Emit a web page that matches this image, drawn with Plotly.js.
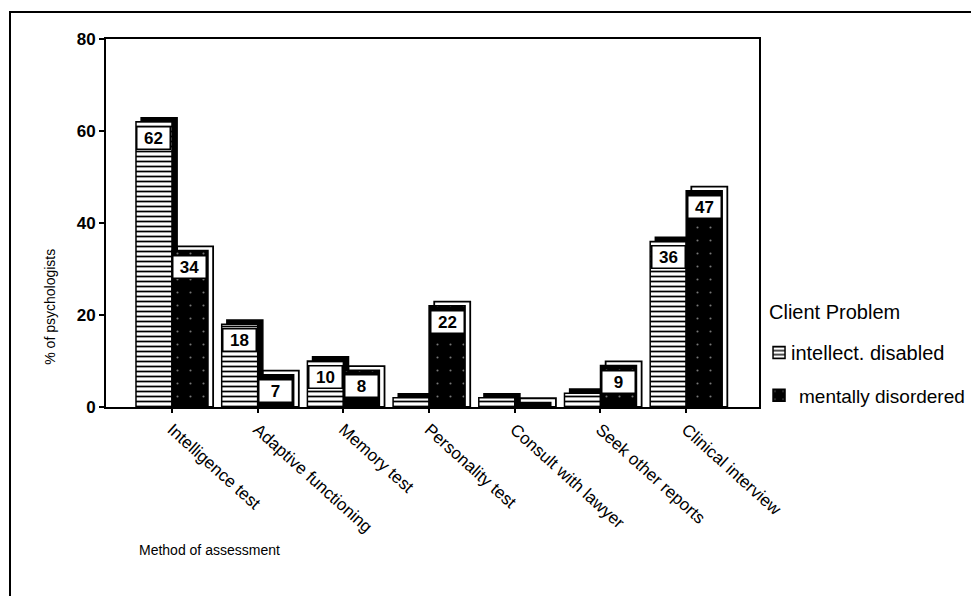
<!DOCTYPE html>
<html>
<head>
<meta charset="utf-8">
<script src="https://cdn.plot.ly/plotly-3.0.1.min.js"></script>
<style>
  html, body { margin: 0; padding: 0; background: #fff; }
  #wrap { position: relative; width: 971px; height: 596px; overflow: hidden; }
  #chart { width: 971px; height: 596px; }
  #frame { position: absolute; left: 9px; top: 11px; width: 1000px; height: 700px;
           border-left: 2px solid #000; border-top: 2px solid #000; pointer-events: none; }
</style>
</head>
<body>
<div id="wrap">
  <div id="chart"></div>
  <div id="frame"></div>
</div>
<script>
// ---- data ----
const categories = ["Intelligence test", "Adaptive functioning", "Memory test",
                    "Personality test", "Consult with lawyer", "Seek other reports",
                    "Clinical interview"];
const intellectDisabled = [62, 18, 10, 2, 2, 3, 36];
const mentallyDisordered = [34, 7, 8, 22, 1, 9, 47];
const seriesNames = ["intellect. disabled", "mentally disordered"];
const legendTitle = "Client Problem";
const yTicks = [0, 20, 40, 60, 80];

// ---- styling ----
const FONT = "Liberation Sans, Arial, sans-serif";
const BW = 0.42;          // bar width (category units)
const SX = 0.06;          // 3D shadow horizontal shift
const SY = 0.9;           // 3D shadow vertical lift (value units)
const LABEL_MIN = 5;

const shadowI = {
  type: "bar", x: categories, y: intellectDisabled.map(v => v + SY),
  width: BW, offset: -BW + SX, showlegend: false, hoverinfo: "skip",
  marker: { color: "#000", line: { color: "#000", width: 1.5 } }
};
const shadowM = {
  type: "bar", x: categories, y: mentallyDisordered.map(v => v + SY),
  width: BW, offset: SX, showlegend: false, hoverinfo: "skip",
  marker: { color: "#fff", line: { color: "#000", width: 1.8 } }
};
// legend entries show only the symbols; their labels are drawn as annotations
const mainI = {
  type: "bar", name: " ", x: categories, y: intellectDisabled,
  width: BW, offset: -BW, legendgroup: "a", meta: seriesNames[0],
  marker: { color: "#fff", line: { color: "#000", width: 1.5 },
            pattern: { shape: "-", fgcolor: "#000", bgcolor: "#fff", size: 5, solidity: 0.35 } }
};
const mainM = {
  type: "bar", name: "  ", x: categories, y: mentallyDisordered,
  width: BW, offset: 0, legendgroup: "b", meta: seriesNames[1],
  marker: { color: "#000", line: { color: "#000", width: 1.5 },
            pattern: { shape: ".", fgcolor: "#777", bgcolor: "#000", size: 13, solidity: 0.02 } }
};

const labelFont = { family: FONT, size: 17, color: "#000", weight: "bold" };
const annotations = [];
intellectDisabled.forEach((v, i) => {
  if (v >= LABEL_MIN) annotations.push({ x: i - BW / 2, y: v, xref: "x", yref: "y", text: String(v),
    showarrow: false, yanchor: "top", yshift: -4, bgcolor: "#fff", bordercolor: "#000",
    borderwidth: 1.5, borderpad: 1, width: 30, font: labelFont });
});
mentallyDisordered.forEach((v, i) => {
  if (v >= LABEL_MIN) annotations.push({ x: i + BW / 2, y: v, xref: "x", yref: "y", text: String(v),
    showarrow: false, yanchor: "top", yshift: -4, bgcolor: "#fff", bordercolor: "#000",
    borderwidth: 1.5, borderpad: 1, width: 30, font: labelFont });
});
annotations.push({ text: "% of psychologists", textangle: -90, xref: "paper", yref: "paper",
  x: -0.086, y: 0.272, showarrow: false, xanchor: "center", yanchor: "middle",
  font: { family: FONT, size: 14, color: "#000" } });
annotations.push({ text: "Method of assessment", xref: "paper", yref: "paper",
  x: 0.047, y: -0.389, showarrow: false, xanchor: "left", yanchor: "middle",
  font: { family: FONT, size: 14, color: "#000" } });
annotations.push({ text: legendTitle, xref: "paper", yref: "paper",
  x: 1.012, y: 0.258, showarrow: false, xanchor: "left", yanchor: "middle",
  font: { family: FONT, size: 20, color: "#000" } });
const legendLabelPos = [{ x: 1.046, y: 0.147, s: 20 }, { x: 1.058, y: 0.029, s: 19 }];
seriesNames.forEach((name, k) => {
  annotations.push({ text: name, xref: "paper", yref: "paper",
    x: legendLabelPos[k].x, y: legendLabelPos[k].y, showarrow: false,
    xanchor: "left", yanchor: "middle", font: { family: FONT, size: legendLabelPos[k].s, color: "#000" } });
});

const layout = {
  width: 971, height: 596,
  margin: { l: 106, r: 211, t: 39, b: 189 },
  paper_bgcolor: "#fff", plot_bgcolor: "#fff",
  barmode: "overlay",
  showlegend: true,
  legend: {
    xref: "container", yref: "container",
    x: 0.7817, y: 0.44, xanchor: "left", yanchor: "top",
    font: { family: FONT, size: 19, color: "#000" },
    tracegroupgap: 15, itemwidth: 30, bgcolor: "rgba(0,0,0,0)"
  },
  xaxis: {
    type: "category", range: [-0.77, 6.85], automargin: false,
    showline: true, linecolor: "#000", linewidth: 2, mirror: true,
    ticks: "outside", ticklen: 4, tickwidth: 2, tickcolor: "#000",
    tickangle: 42, showgrid: false, zeroline: false,
    tickfont: { family: FONT, size: 17, color: "#000" }
  },
  yaxis: {
    range: [0, 80], tickvals: yTicks, ticktext: yTicks.map(String), automargin: false,
    showline: true, linecolor: "#000", linewidth: 2, mirror: true,
    ticks: "outside", ticklen: 5, tickwidth: 2, tickcolor: "#000",
    showgrid: false, zeroline: false,
    tickfont: { family: FONT, size: 17, color: "#000", weight: "bold" }
  },
  annotations: annotations
};

Plotly.newPlot("chart", [shadowI, shadowM, mainI, mainM], layout, { staticPlot: true });
</script>
</body>
</html>
